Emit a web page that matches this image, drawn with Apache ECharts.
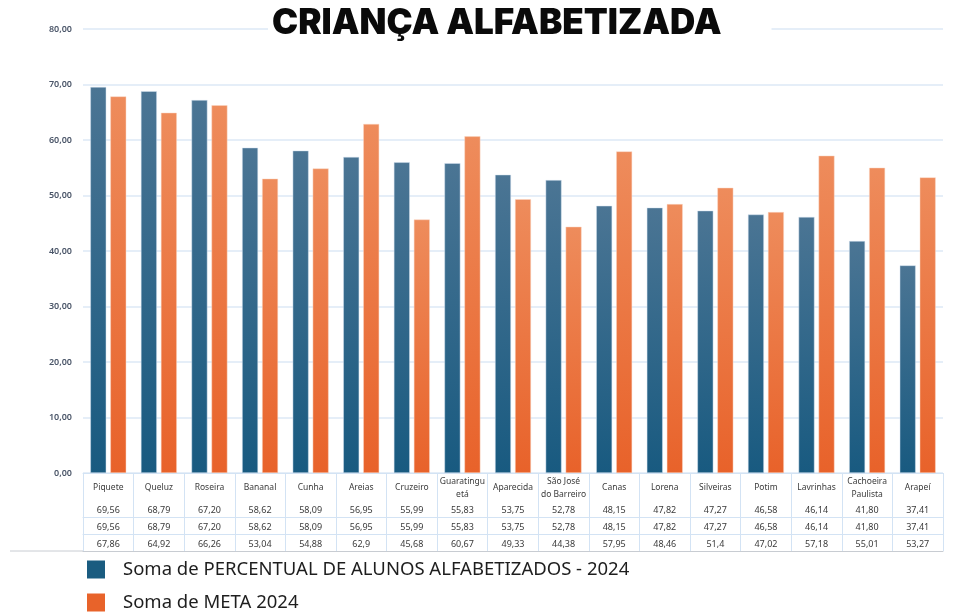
<!DOCTYPE html>
<html>
<head>
<meta charset="utf-8">
<script src="https://cdn.jsdelivr.net/npm/echarts@6/dist/echarts.min.js"></script>
<style>
  html, body { margin: 0; padding: 0; background: #fff; }
  #chart { width: 959px; height: 614px; }
</style>
</head>
<body>
<div id="chart"></div>
<script>
// categorias (quebras de linha como aparecem na tabela)
let municipios = ['Piquete','Queluz','Roseira','Bananal','Cunha','Areias','Cruzeiro','Guaratingu\netá',
  'Aparecida','São José\ndo Barreiro','Canas','Lorena','Silveiras','Potim','Lavrinhas','Cachoeira\nPaulista','Arapeí'];

let percentual = [69.56,68.79,67.20,58.62,58.09,56.95,55.99,55.83,53.75,52.78,48.15,47.82,47.27,46.58,46.14,41.80,37.41];
let meta = [67.86,64.92,66.26,53.04,54.88,62.9,45.68,60.67,49.33,44.38,57.95,48.46,51.4,47.02,57.18,55.01,53.27];

// textos da tabela como no original
let linhaPercentual = ['69,56','68,79','67,20','58,62','58,09','56,95','55,99','55,83','53,75','52,78','48,15','47,82','47,27','46,58','46,14','41,80','37,41'];
let linhaMeta = ['67,86','64,92','66,26','53,04','54,88','62,9','45,68','60,67','49,33','44,38','57,95','48,46','51,4','47,02','57,18','55,01','53,27'];

let yTicks = { min: 0, max: 80, interval: 10 };

let nomeSerie1 = 'Soma de PERCENTUAL DE ALUNOS ALFABETIZADOS - 2024';
let nomeSerie2 = 'Soma de META 2024';

let corLinhaTabela = '#d3e3f4';

function grad(top, bottom){
    return new echarts.graphic.LinearGradient(0,0,0,1,[{offset:0,color:top},{offset:1,color:bottom}]);
}

let myChart = echarts.init(document.getElementById('chart'));

function eixoLinha(offset, cor){
    return {
        type: 'category',
        position: 'bottom',
        offset: offset,
        data: municipios,
        axisLine: { show: true, lineStyle: { color: cor, width: 1 } },
        axisTick: { show: false },
        axisLabel: { show: false },
        splitLine: { show: false }
    };
}

option = {
    backgroundColor: '#fff',
    animation: false,
    title: {
        text: 'CRIANÇA ALFABETIZADA',
        left: 268,
        top: 4,
        backgroundColor: '#fff',
        padding: [2, 50, 2, 4],
        textStyle: {
            fontFamily: 'Inter',
            fontWeight: 900,
            fontSize: 35,
            color: '#0a0a0a'
        }
    },
    legend: {
        orient: 'vertical',
        left: 87,
        top: 560,
        padding: 0,
        itemWidth: 18,
        itemHeight: 18,
        itemGap: 14,
        icon: 'rect',
        data: [
            { name: nomeSerie1, itemStyle: { color: '#1a5c80', borderWidth: 0 } },
            { name: nomeSerie2, itemStyle: { color: '#e8632a', borderWidth: 0 } }
        ],
        textStyle: {
            fontFamily: 'Noto Sans',
            fontSize: 18.5,
            color: '#1e1e1e',
            padding: [0, 0, 0, 13]
        }
    },
    grid: {
        left: 83,
        right: 16,
        top: 29,
        bottom: 141,
        containLabel: false
    },
    xAxis: [
        {
            type: 'category',
            data: municipios,
            boundaryGap: true,
            axisLine: { show: true, lineStyle: { color: corLinhaTabela } },
            axisTick: { show: true, interval: 0, length: 78, lineStyle: { color: corLinhaTabela } },
            axisLabel: {
                interval: 0,
                margin: 2,
                formatter: function (value, idx) {
                    let nome = value.indexOf('\n') >= 0 ? '{n2|' + value + '}' : '{n1|' + value + '}';
                    return nome + '\n{v1|' + linhaPercentual[idx] + '}\n{v|' + linhaPercentual[idx] + '}\n{v|' + linhaMeta[idx] + '}';
                },
                rich: {
                    n1: { fontFamily: 'Noto Sans', fontSize: 8.5, color: '#3a3a3a', lineHeight: 26, align: 'center' },
                    n2: { fontFamily: 'Noto Sans', fontSize: 8.5, color: '#3a3a3a', lineHeight: 13, align: 'center' },
                    v1: { fontFamily: 'Noto Sans', fontSize: 9, color: '#3a3a3a', lineHeight: 18, align: 'center' },
                    v: { fontFamily: 'Noto Sans', fontSize: 9, color: '#3a3a3a', lineHeight: 17, align: 'center' }
                }
            }
        },
        eixoLinha(44, corLinhaTabela),
        eixoLinha(61, corLinhaTabela),
        eixoLinha(78, '#c8ccd2')
    ],
    yAxis: {
        type: 'value',
        min: yTicks.min,
        max: yTicks.max,
        interval: yTicks.interval,
        axisLine: { show: false },
        axisTick: { show: false },
        splitLine: { lineStyle: { color: '#dce9f6', width: 1.5 } },
        axisLabel: {
            margin: 11,
            fontFamily: 'Noto Sans',
            fontSize: 9,
            fontWeight: 600,
            color: '#4a5568',
            formatter: function (v) { return v.toFixed(2).replace('.', ','); }
        }
    },
    graphic: [
        {
            type: 'line',
            shape: { x1: 10, y1: 551, x2: 83, y2: 551 },
            style: { stroke: '#c8ccd2', lineWidth: 1 }
        }
    ],
    series: [
        {
            name: nomeSerie1,
            type: 'bar',
            barWidth: 16,
            barGap: '25%',
            itemStyle: {
                color: grad('#4b7594', '#185a80'),
                borderColor: 'rgba(210,225,240,0.8)',
                borderWidth: 0.6
            },
            data: percentual
        },
        {
            name: nomeSerie2,
            type: 'bar',
            barWidth: 16,
            itemStyle: {
                color: grad('#ee8c5c', '#e8622a'),
                borderColor: 'rgba(250,215,195,0.8)',
                borderWidth: 0.6
            },
            data: meta
        }
    ]
};

myChart.setOption(option);
</script>
</body>
</html>
